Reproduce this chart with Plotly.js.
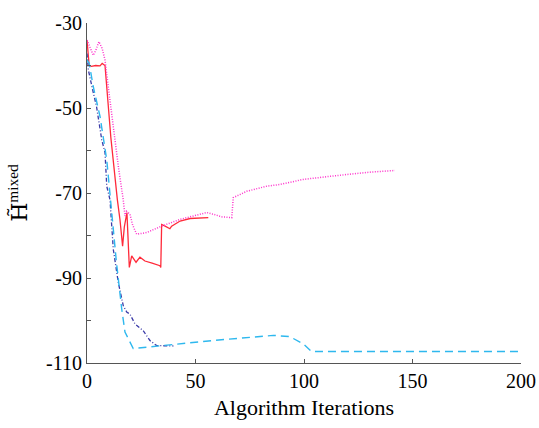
<!DOCTYPE html>
<html><head><meta charset="utf-8">
<script src="https://cdn.plot.ly/plotly-3.0.1.min.js"></script>
<style>html,body{margin:0;padding:0;background:#fff}#c{width:539px;height:428px}</style>
</head><body><div id="c"></div>
<script>
// Red solid series
const redX = [0, 1, 2, 4, 6, 7, 8.3, 9, 11, 14, 15.2, 16.4, 17.2, 18.4, 19.5, 20.6, 22.6, 24.4, 26.7, 30, 33.6, 34, 34.4, 36, 38.2, 39, 42.9, 47.5, 52, 55.9];
const redY = [-34, -40, -40.2, -40, -40.1, -39.5, -40, -45, -57, -71.6, -76.3, -82.5, -78, -74.6, -87.5, -84.8, -86.3, -85.1, -86, -86.5, -87.1, -87.5, -77.4, -77.8, -78.4, -77.8, -76.6, -76, -75.8, -75.8];
// Magenta dotted series
const pinkX = [0, 1.5, 2.9, 4, 5.5, 7, 8.3, 9.8, 12, 14.5, 16.7, 17.5, 18.2, 19.8, 21, 22.9, 27.5, 34.4, 42.9, 50, 55.2, 58.2, 62, 66.7, 67.4, 73.6, 82.8, 88.9, 99.7, 115, 130.4, 141.9];
const pinkY = [-34, -36, -37.6, -36.5, -34.4, -36, -38.7, -45, -54, -64, -71.6, -75.4, -74.3, -75, -77.5, -79.7, -79.3, -77.8, -76.2, -75.3, -74.6, -75, -75.6, -75.8, -71.1, -69.6, -68.4, -68, -66.8, -65.9, -65.1, -64.7];
// Navy dash-dot series
const navyX = [0, 0.6, 2.5, 4.4, 6.8, 8.3, 9.1, 10.6, 12.1, 14.4, 16.7, 18.3, 19.8, 22.1, 25.9, 29, 32.1, 35, 39.8];
const navyY = [-37.2, -41, -45.5, -49.7, -57.5, -60.5, -68.4, -71.6, -83.2, -91, -96.5, -98, -98.5, -100.8, -102.4, -104.7, -105.9, -106, -106];
// Light blue dashed series
const cyanX = [0, 1, 2.9, 6, 9.1, 11.4, 13.5, 16, 17.5, 21.3, 35.2, 58.2, 85.9, 93.5, 99.7, 103.5, 150, 200];
const cyanY = [-38.7, -39.5, -45, -52, -62.2, -74.6, -86, -97.3, -102.7, -106.6, -105.9, -104.7, -103.5, -103.8, -105.5, -107.3, -107.3, -107.3];

const xTicks = [0, 50, 100, 150, 200];
const yTicks = [-30, -40, -50, -60, -70, -80, -90, -100, -110];
const yTickText = ['-30', ' ', '-50', ' ', '-70', ' ', '-90', ' ', '-110'];

const traces = [
  {x: redX, y: redY, mode: 'lines', line: {color: '#ff2a3a', width: 1.3}},
  {x: pinkX, y: pinkY, mode: 'lines', line: {color: '#ff33cc', width: 1.5, dash: '1px,1.5px'}},
  {x: navyX, y: navyY, mode: 'lines', line: {color: '#3b3ba8', width: 1.3, dash: '4px,2px,1px,2px'}},
  {x: cyanX, y: cyanY, mode: 'lines', line: {color: '#2eb8ee', width: 1.4, dash: '8px,5px'}}
];

const font = 'Liberation Serif, Times New Roman, serif';
const layout = {
  width: 539, height: 428,
  margin: {l: 87, r: 18, t: 23, b: 65},
  showlegend: false,
  paper_bgcolor: '#fff', plot_bgcolor: '#fff',
  font: {family: font, size: 20, color: '#000'},
  xaxis: {
    range: [0, 200], tickvals: xTicks, ticktext: xTicks.map(String),
    ticks: 'inside', ticklen: 4, tickcolor: '#555', tickwidth: 1,
    showline: true, linecolor: '#555', linewidth: 1, showgrid: false, zeroline: false,
    tickfont: {family: font, size: 20},
    title: {text: 'Algorithm Iterations', font: {family: font, size: 22}, standoff: 8}
  },
  yaxis: {
    range: [-110, -30], tickvals: yTicks, ticktext: yTickText,
    ticks: 'inside', ticklen: 4, tickcolor: '#555', tickwidth: 1,
    showline: true, linecolor: '#555', linewidth: 1, showgrid: false, zeroline: false,
    tickfont: {family: font, size: 20},
    title: {text: '<span style="font-family:DejaVu Serif">H\u0303</span><sup>mixed</sup>', font: {family: font, size: 22}, standoff: 12}
  }
};
Plotly.newPlot('c', traces, layout, {displayModeBar: false, staticPlot: true});
</script></body></html>
